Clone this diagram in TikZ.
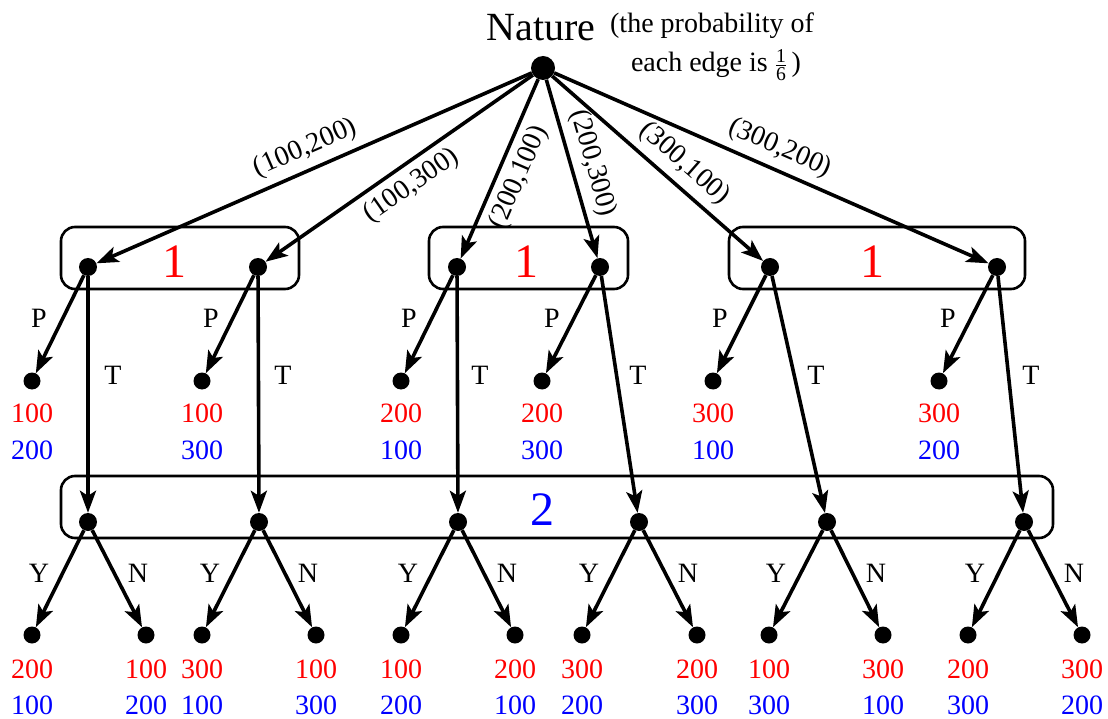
\documentclass[tikz,border=0pt]{standalone}
\usepackage{fontspec}
\usepackage{amsmath}
\setmainfont{Liberation Serif}
\usetikzlibrary{arrows.meta}
\begin{document}
\begin{tikzpicture}[x=1pt,y=-1pt,
  every node/.style={font=\fontsize{28}{34}\selectfont},
  dec/.style={circle,fill,inner sep=0pt,minimum size=18pt},
  leafnode/.style={circle,fill,inner sep=0pt,minimum size=17pt},
  edge/.style={line width=3.6pt,-{Stealth[length=22pt,width=16pt,inset=5pt]}},
  infoset/.style={line width=2.6pt,rounded corners=14pt},
  lab/.style={inner sep=0pt},
  elab/.style={sloped,inner sep=7pt},
  pay/.style={inner sep=0pt},
  bignum/.style={inner sep=0pt,font=\fontsize{48}{48}\selectfont}]
\useasboundingbox (0,0) rectangle (1108,719);

% information sets
\draw[infoset] (61,227) rectangle (299,289);
\draw[infoset] (429,227) rectangle (628,289);
\draw[infoset] (729,227) rectangle (1025,289);
\draw[infoset] (61,476) rectangle (1053,538);

\node[bignum,text=red] (one1) at (174,262) {1};
\node[bignum,text=red] (one2) at (526,262) {1};
\node[bignum,text=red] (one3) at (872,262) {1};
\node[bignum,text=blue] (two) at (542,510) {2};

% nature
\node[circle,fill,inner sep=0pt,minimum size=24pt] (nat) at (543,68) {};
\node[anchor=base,inner sep=0pt,font=\fontsize{40}{48}\selectfont] (natlab) at (541,41) {Nature};
\node[anchor=base,inner sep=0pt] (prob1) at (712,33) {(the probability of};
\node[anchor=base,inner sep=0pt] (prob2) at (716,72) {each edge is $\frac{\text{1}}{\text{6}}$\,)};

% player 1 nodes
\foreach \n/\x in {a1/88,a2/258,b1/457,b2/600,c1/770,c2/997}
  \node[dec] (\n) at (\x,267) {};

% player 2 nodes
\foreach \n/\x in {d1/88,d2/259,d3/458,d4/639,d5/827,d6/1024}
  \node[dec] (\n) at (\x,522) {};

% P leaves
\foreach \n/\x in {pa1/32,pa2/202,pb1/401,pb2/542,pc1/713,pc2/939}
  \node[leafnode] (\n) at (\x,381) {};

% bottom leaves
\foreach \n/\x in {y1/32,n1/146,y2/202,n2/316,y3/401,n3/515,y4/582,n4/697,y5/769,n5/883,y6/968,n6/1082}
  \node[leafnode] (\n) at (\x,635) {};

% nature edges
\draw[edge] (nat) -- node[elab,above] {(100,200)} (a1);
\draw[edge] (nat) -- node[elab,below] {(100,300)} (a2);
\draw[edge] (nat) -- node[elab,below] {(200,100)} (b1);
\draw[edge] (nat) -- node[elab,above] {(200,300)} (b2);
\draw[edge] (nat) -- node[elab,above,pos=0.56] {(300,100)} (c1);
\draw[edge] (nat) -- node[elab,above] {(300,200)} (c2);

% P and T edges
\foreach \s/\p/\d in {a1/pa1/d1,a2/pa2/d2,b1/pb1/d3,b2/pb2/d4,c1/pc1/d5,c2/pc2/d6}{
  \draw[edge] (\s) -- (\p);
  \draw[edge] (\s) -- (\d);
}

% Y and N edges
\foreach \s/\yy/\nn in {d1/y1/n1,d2/y2/n2,d3/y3/n3,d4/y4/n4,d5/y5/n5,d6/y6/n6}{
  \draw[edge] (\s) -- (\yy);
  \draw[edge] (\s) -- (\nn);
}

% action labels
\foreach \i/\x in {1/39,2/211,3/409,4/552,5/720,6/948}
  \node[lab] (P\i) at (\x,318) {P};
\foreach \i/\x in {1/113,2/283,3/480,4/638,5/816,6/1031}
  \node[lab] (T\i) at (\x,375) {T};
\foreach \i/\x in {1/39,2/210,3/408,4/589,5/776,6/975}
  \node[lab] (Y\i) at (\x,573) {Y};
\foreach \i/\x in {1/138,2/308,3/507,4/688,5/876,6/1074}
  \node[lab] (N\i) at (\x,573) {N};

% payoffs under P leaves
\foreach \n/\r/\b in {pa1/100/200,pa2/100/300,pb1/200/100,pb2/200/300,pc1/300/100,pc2/300/200}{
  \node[pay,text=red] (\n r) at ([yshift=-32pt]\n.center) {\r};
  \node[pay,text=blue] (\n b) at ([yshift=-69pt]\n.center) {\b};
}

% payoffs under bottom leaves
\foreach \n/\r/\b in {y1/200/100,n1/100/200,y2/300/100,n2/100/300,y3/100/200,n3/200/100,y4/300/200,n4/200/300,y5/100/300,n5/300/100,y6/200/300,n6/300/200}{
  \node[pay,text=red] (\n r) at ([yshift=-34pt]\n.center) {\r};
  \node[pay,text=blue] (\n b) at ([yshift=-70pt]\n.center) {\b};
}
\end{tikzpicture}
\end{document}
